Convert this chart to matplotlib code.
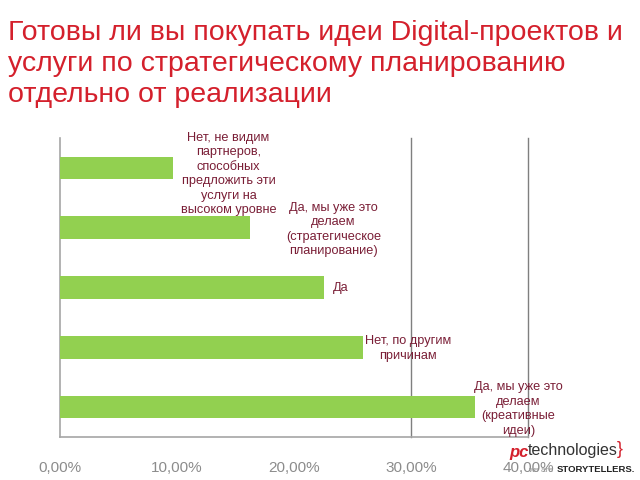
import matplotlib
matplotlib.use("Agg")
import matplotlib.pyplot as plt
from matplotlib.ticker import FuncFormatter

plt.rcParams['font.family'] = ['Liberation Sans', 'DejaVu Sans']

# ---- data ----
categories = [
    "Нет, не видим\nпартнеров,\nспособных\nпредложить эти\nуслуги на\nвысоком уровне",
    "Да, мы уже это\nделаем\n(стратегическое\nпланирование)",
    "Да",
    "Нет, по другим\nпричинам",
    "Да, мы уже это\nделаем\n(креативные\nидеи)",
]
values = [9.7, 16.2, 22.6, 25.9, 35.5]
xticks = [0, 10, 20, 30, 40]
title = "Готовы ли вы покупать идеи Digital-проектов и\nуслуги по стратегическому планированию\nотдельно от реализации"

# ---- layout (label offsets in pixels from bar end / bar centre) ----
label_dx = [55, 84, 8, 45, 43]
label_dy = [-6, -2, -1, -1, -2]
label_ha = ["center", "center", "left", "center", "center"]

fig = plt.figure(figsize=(6.4, 4.8), dpi=100)
ax = fig.add_axes([60/640, 43/480, 468/640, 299/480])

pos = list(range(len(values)))
ax.barh(pos, values, height=0.38, color="#92D050", zorder=3)
ax.set_ylim(4.5, -0.5)
ax.set_xlim(0, 40)

for x in [30, 40]:
    ax.axvline(x, color="#7f7f7f", lw=1.0, zorder=1, clip_on=False)

for i, (v, lab) in enumerate(zip(values, categories)):
    ax.annotate(lab, xy=(v, i), xytext=(label_dx[i]*0.72, label_dy[i]*0.72),
                textcoords="offset points", ha=label_ha[i], va="center",
                fontsize=9.2, color="#7A1E36", linespacing=1.27, zorder=4)

for s in ["top", "right"]:
    ax.spines[s].set_visible(False)
for s in ["left", "bottom"]:
    ax.spines[s].set_color("#a6a6a6")
    ax.spines[s].set_linewidth(1.2)

ax.set_yticks([])
ax.set_xticks(xticks)
ax.xaxis.set_major_formatter(FuncFormatter(lambda v, p: f"{v:.2f}".replace(".", ",") + "%"))
ax.tick_params(axis="x", length=0, pad=17, labelsize=11, labelcolor="#8c8c8c")

fig.text(8/640, 1 - 20/480, title, ha="left", va="top", fontsize=20.5,
         color="#D4202C", linespacing=1.26)

# logo
fig.text(509/640, 1 - 452/480, "pc", fontsize=12, color="#D4202C", style="italic",
         ha="left", va="center", fontweight="bold")
fig.text(528/640, 1 - 450/480, "technologies", fontsize=11.5, color="#333333",
         ha="left", va="center")
fig.text(617/640, 1 - 450/480, "}", fontsize=13, color="#D4202C",
         ha="left", va="center")
fig.text(528/640, 1 - 470/480, "we are", fontsize=6, color="#999999",
         ha="left", va="center")
fig.text(557/640, 1 - 470/480, "STORYTELLERS.", fontsize=6.8, color="#222222",
         ha="left", va="center", fontweight="bold")

fig.savefig("out.png", dpi=100)
